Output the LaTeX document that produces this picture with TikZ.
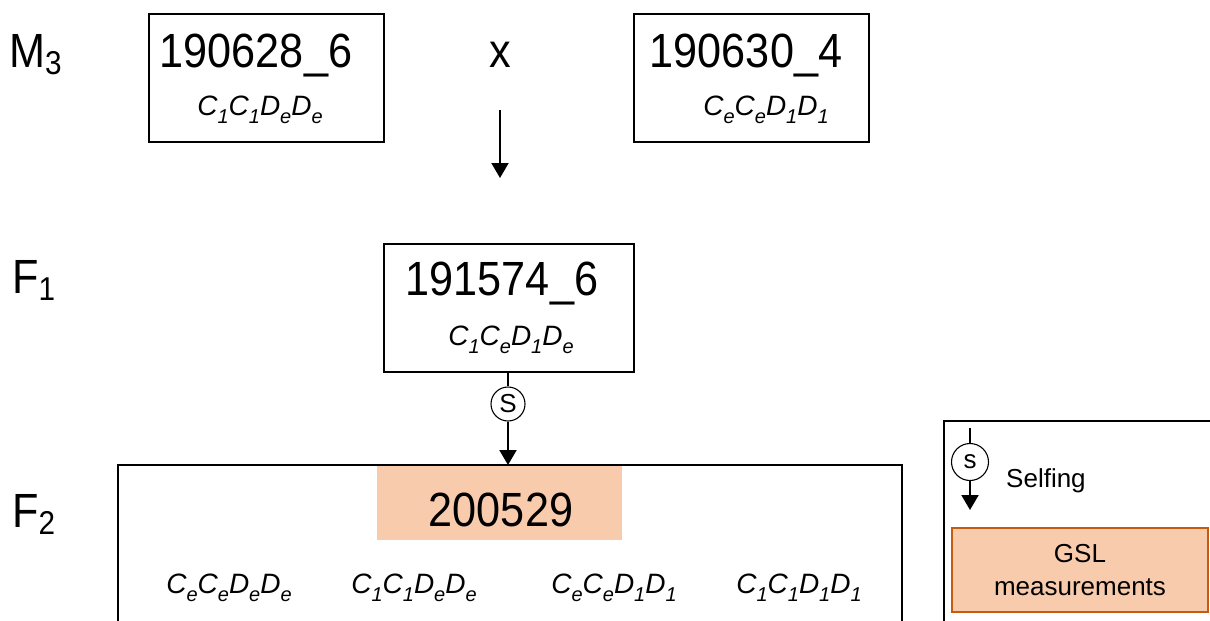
\documentclass[tikz,border=0pt]{standalone}
\usepackage{fontspec}
\usepackage{graphicx}
\setmainfont{Liberation Sans}
\usetikzlibrary{arrows.meta}
\definecolor{peach}{HTML}{F8CBAD}
\definecolor{rust}{HTML}{C55A11}
\newcommand\cond[1]{\scalebox{0.9}[1]{#1}}
\newcommand\lowsub[1]{\raisebox{-8pt}{\fontsize{20}{20}\selectfont #1}}
\newcommand\geno[4]{{\fontsize{28}{28}\selectfont\itshape C\lowsub{#1}C\lowsub{#2}D\lowsub{#3}D\lowsub{#4}}}
\newcommand\genlabel[2]{\cond{\fontsize{48}{48}\selectfont #1\raisebox{-7pt}{\fontsize{33}{33}\selectfont #2}}}
\newcommand\bignum[1]{\cond{\fontsize{48}{48}\selectfont #1}}
\tikzset{
  box/.style={draw, line width=1.1pt, inner sep=0pt},
  big/.style={inner sep=0pt, anchor=base},
  gtext/.style={inner sep=0pt, anchor=base},
  lbl/.style={inner sep=0pt, anchor=base west},
  conn/.style={line width=2pt},
  tip/.style={-{Triangle[width=17pt,length=15pt]}},
  selfc/.style={draw, circle, line width=1.1pt, inner sep=0pt, fill=white},
}
\begin{document}
\begin{tikzpicture}[x=1pt, y=-1pt]
\useasboundingbox (0,0) rectangle (1210,621);
% generation labels
\node[lbl] (m3) at (9,67) {\genlabel{M}{3}};
\node[lbl] (f1) at (12,293) {\genlabel{F}{1}};
\node[lbl] (f2) at (12,527) {\genlabel{F}{2}};
% parent boxes
\node[box, minimum width=235pt, minimum height=128pt] (p1) at (266.5,78) {};
\node[box, minimum width=235pt, minimum height=128pt] (p2) at (751.5,78) {};
\node[big] (p1n) at (256,67) {\bignum{190628\_6}};
\node[big] (p2n) at (746,67) {\bignum{190630\_4}};
\node[gtext] (p1g) at (260,115) {\geno{1}{1}{e}{e}};
\node[gtext] (p2g) at (766,115) {\geno{e}{e}{1}{1}};
\node[big] (cross) at (500,67) {\bignum{x}};
\coordinate (ca) at (500,110);
\coordinate (cb) at (500,178);
\draw[conn, tip] (ca) -- (cb);
% F1 box
\node[box, minimum width=250pt, minimum height=128pt] (fb) at (509,308) {};
\node[big] (fbn) at (502,295) {\bignum{191574\_6}};
\node[gtext] (fbg) at (511,345) {\geno{1}{e}{1}{e}};
% selfing
\node[selfc, minimum size=34pt] (s1) at (508,404) {\fontsize{26}{26}\selectfont S};
% F2 box
\fill[peach] (377,465) rectangle (622,540);
\node[inner sep=0pt, minimum width=784pt, minimum height=1pt] (f2top) at (510,465) {};
\draw[line width=1.1pt] (118,625) -- (118,465) -- (902,465) -- (902,625);
\node[big] (f2n) at (501,526) {\bignum{200529}};
\draw[conn] (fb.south -| s1) -- (s1);
\draw[conn, tip] (s1) -- (s1 |- f2top);
\node[gtext] (g1) at (229,593) {\geno{e}{e}{e}{e}};
\node[gtext] (g2) at (414,593) {\geno{1}{1}{e}{e}};
\node[gtext] (g3) at (614,593) {\geno{e}{e}{1}{1}};
\node[gtext] (g4) at (799,593) {\geno{1}{1}{1}{1}};
% legend
\draw[line width=1.6pt] (1212,421) -- (944,421) -- (944,625);
\coordinate (la) at (970,428);
\coordinate (lb) at (970,510);
\node[selfc, minimum size=37pt] (s2) at (970,462) {\fontsize{26}{26}\selectfont s};
\draw[conn] (la) -- (s2);
\draw[conn, tip] (s2) -- (lb);
\node[lbl] (selfing) at (1006,487) {\fontsize{26}{26}\selectfont Selfing};
\node[draw=rust, fill=peach, line width=1.3pt, minimum width=256pt, minimum height=84pt, inner sep=0pt, align=center, font=\fontsize{26}{33}\selectfont] (gsl) at (1080,570) {GSL\\measurements};
\end{tikzpicture}
\end{document}
